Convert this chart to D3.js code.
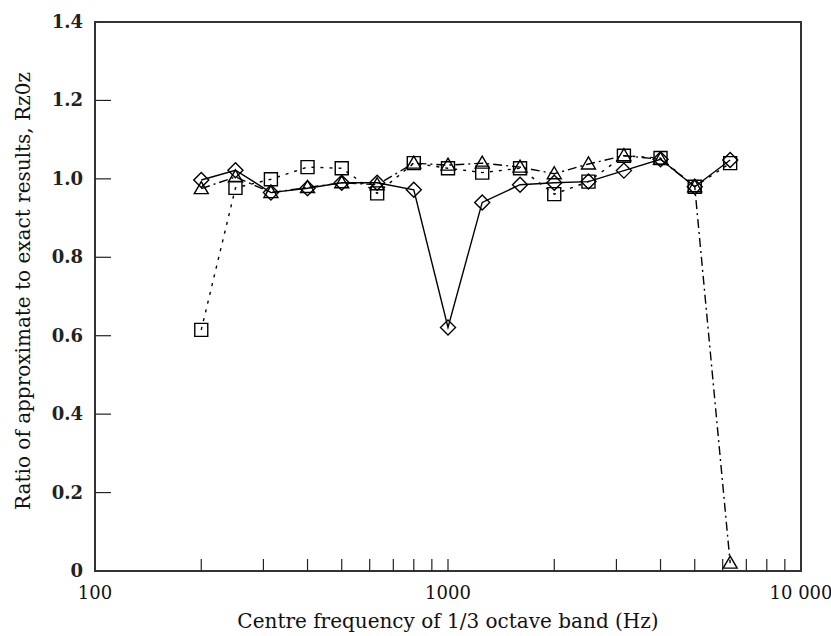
<!DOCTYPE html>
<html>
<head>
<meta charset="utf-8">
<script src="https://cdn.jsdelivr.net/npm/d3@7"></script>
<style>
  html, body { margin: 0; padding: 0; background: #fff; }
  svg { display: block; }
</style>
</head>
<body>
<svg id="chart" width="831" height="636"></svg>
<script>
// ---- data ----
const freqs = [200, 250, 315, 400, 500, 630, 800, 1000, 1250, 1600, 2000, 2500, 3150, 4000, 5000, 6300];
const diamondSeries  = [0.997, 1.022, 0.965, 0.976, 0.990, 0.990, 0.972, 0.621, 0.940, 0.985, 0.990, 0.993, 1.021, 1.050, 0.980, 1.048];
const squareSeries   = [0.615, 0.977, 0.999, 1.030, 1.027, 0.963, 1.040, 1.027, 1.016, 1.027, 0.961, 0.993, 1.059, 1.053, 0.980, 1.040];
const triangleSeries = [0.975, 1.005, 0.965, 0.978, 0.990, 0.985, 1.040, 1.035, 1.040, 1.030, 1.013, 1.038, 1.059, 1.050, 0.980, 0.020];
const xTickValues = [100, 1000, 10000];
const xTickLabels = ["100", "1000", "10 000"];
const xMinorTicks = [200, 300, 400, 500, 600, 700, 800, 900, 2000, 3000, 4000, 5000, 6000, 7000, 8000, 9000];
const yTickValues = [0, 0.2, 0.4, 0.6, 0.8, 1.0, 1.2, 1.4];
const yTickLabels = ["0", "0.2", "0.4", "0.6", "0.8", "1.0", "1.2", "1.4"];
const xTitle = "Centre frequency of 1/3 octave band (Hz)";
const yTitle = "Ratio of approximate to exact results, Rz0z";

// ---- layout ----
const mLeft = 95, mRight = 801, mTop = 22, mBottom = 571;
const svg = d3.select("#chart");
const x = d3.scaleLog().domain([100, 10000]).range([mLeft, mRight]);
const y = d3.scaleLinear().domain([0, 1.4]).range([mBottom, mTop]);
const font = "'DejaVu Serif', 'Liberation Serif', serif";
const axisColor = "#333";

// frame
svg.append("rect").attr("x", mLeft).attr("y", mTop)
  .attr("width", mRight - mLeft).attr("height", mBottom - mTop)
  .attr("fill", "none").attr("stroke", axisColor).attr("stroke-width", 2);

// x minor ticks (inward)
svg.append("g").selectAll("line").data(xMinorTicks.concat([1000])).join("line")
  .attr("x1", d => x(d)).attr("x2", d => x(d))
  .attr("y1", mBottom).attr("y2", mBottom - 12)
  .attr("stroke", "#222").attr("stroke-width", 1.2);

// y ticks (inward)
svg.append("g").selectAll("line").data(yTickValues.slice(1, -1)).join("line")
  .attr("x1", mLeft).attr("x2", mLeft + 16)
  .attr("y1", d => y(d)).attr("y2", d => y(d))
  .attr("stroke", "#222").attr("stroke-width", 1.2);

// x tick labels
svg.append("g").selectAll("text").data(xTickValues).join("text")
  .attr("x", d => x(d)).attr("y", 599)
  .attr("text-anchor", "middle")
  .attr("font-family", font).attr("font-size", 18).attr("fill", "#111")
  .text((d, i) => xTickLabels[i]);

// y tick labels
svg.append("g").selectAll("text").data(yTickValues).join("text")
  .attr("x", 83).attr("y", d => y(d) + 6)
  .attr("text-anchor", "end")
  .attr("font-family", font).attr("font-size", 18).attr("font-weight", "bold").attr("fill", "#222")
  .text((d, i) => yTickLabels[i]);

// titles
svg.append("text").attr("x", 448).attr("y", 628)
  .attr("text-anchor", "middle").attr("font-family", font).attr("font-size", 20).attr("fill", "#111")
  .text(xTitle);
svg.append("text").attr("transform", "translate(30, 291) rotate(-90)")
  .attr("text-anchor", "middle").attr("font-family", font).attr("font-size", 20).attr("fill", "#111")
  .text(yTitle);

// series
const series = [
  { values: diamondSeries,  dash: null,      shape: "diamond" },
  { values: squareSeries,   dash: "3,6",     shape: "square" },
  { values: triangleSeries, dash: "9,4,2,4", shape: "triangle" }
];
const line = d3.line().x(d => x(d.f)).y(d => y(d.v));

series.forEach(s => {
  const pts = freqs.map((f, i) => ({ f, v: s.values[i] }));
  svg.append("path").datum(pts).attr("d", line)
    .attr("fill", "none").attr("stroke", "#000").attr("stroke-width", 1.4)
    .attr("stroke-dasharray", s.dash);
});

series.forEach(s => {
  const pts = freqs.map((f, i) => ({ f, v: s.values[i] }));
  svg.append("g").selectAll("path").data(pts).join("path")
    .attr("transform", d => `translate(${x(d.f)},${y(d.v)})`)
    .attr("d", () => {
      if (s.shape === "diamond") return "M0,-7.5L7.5,0L0,7.5L-7.5,0Z";
      if (s.shape === "square") return "M-6.5,-6.5H6.5V6.5H-6.5Z";
      return "M0,-7L7,5H-7Z";
    })
    .attr("fill", "none").attr("stroke", "#000").attr("stroke-width", 1.4);
});
</script>
</body>
</html>
